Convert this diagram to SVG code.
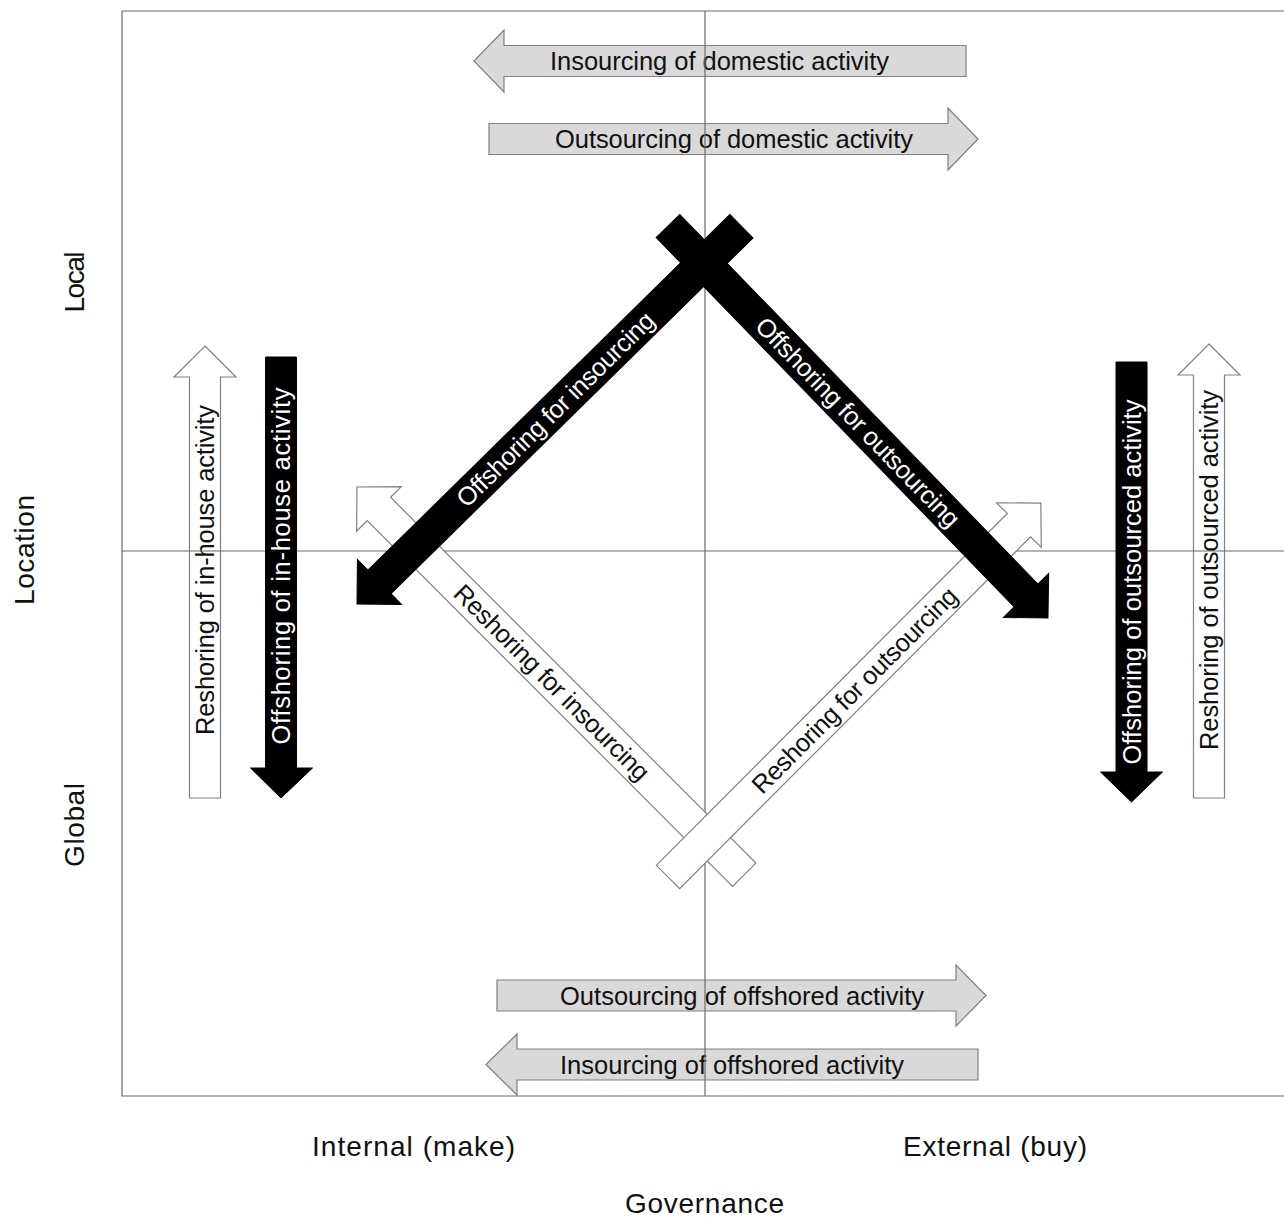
<svg xmlns="http://www.w3.org/2000/svg" width="1284" height="1217" viewBox="0 0 1284 1217">
<style>
.axis{stroke:#6b6b6b;stroke-width:1.2;fill:none}
.gray{fill:#d9d9d9;stroke:#808080;stroke-width:1.2}
.white{fill:#ffffff;stroke:#808080;stroke-width:1.2}
.black{fill:#000000;stroke:#000000;stroke-width:1}
.t{font-family:"Liberation Sans",Arial,sans-serif;font-size:25.5px;fill:#111111;text-anchor:middle}
.tw{font-family:"Liberation Sans",Arial,sans-serif;font-size:25.5px;fill:#ffffff;text-anchor:middle}
.lab{font-family:"Liberation Sans",Arial,sans-serif;font-size:28px;fill:#111111;text-anchor:middle}
</style>
<rect x="0" y="0" width="1284" height="1217" fill="#ffffff"/>

<!-- horizontal gray arrows -->
<g id="insourcing-domestic">
<path class="gray" d="M474,61 L504,30 L504,45.5 L966,45.5 L966,76.5 L504,76.5 L504,92 Z"/>
<text class="t" x="719.5" y="70" textLength="339">Insourcing of domestic activity</text>
</g>
<g id="outsourcing-domestic">
<path class="gray" d="M489,123.5 L948,123.5 L948,108 L978,139 L948,170 L948,154.5 L489,154.5 Z"/>
<text class="t" x="734" y="148" textLength="358">Outsourcing of domestic activity</text>
</g>
<g id="outsourcing-offshored">
<path class="gray" d="M497,980 L956,980 L956,965 L986,995.5 L956,1026 L956,1011 L497,1011 Z"/>
<text class="t" x="742" y="1004.5" textLength="364">Outsourcing of offshored activity</text>
</g>
<g id="insourcing-offshored">
<path class="gray" d="M486,1064.5 L517,1034 L517,1049 L978,1049 L978,1080 L517,1080 L517,1095 Z"/>
<text class="t" x="732" y="1073.5" textLength="344">Insourcing of offshored activity</text>
</g>

<!-- vertical white arrows -->
<g id="reshoring-inhouse">
<path class="white" d="M205,346 L236,377 L220.5,377 L220.5,798 L189.5,798 L189.5,377 L174,377 Z"/>
<text class="t" transform="translate(205,570) rotate(-90)" x="0" y="9" textLength="330">Reshoring of in-house activity</text>
</g>
<g id="reshoring-outsourced">
<path class="white" d="M1209,344 L1240,375 L1224.5,375 L1224.5,798 L1193.5,798 L1193.5,375 L1178,375 Z"/>
<text class="t" transform="translate(1209,570) rotate(-90)" x="0" y="9" textLength="360">Reshoring of outsourced activity</text>
</g>

<!-- axes and frame -->
<g id="connectors">
<path class="axis" d="M122,11 L1284,11 M122,11 L122,1096 L1284,1096 M705,11 L705,1096 M122,551 L1284,551"/>
</g>

<!-- diagonal white arrows -->
<g id="reshoring-for-insourcing" transform="translate(357,487) rotate(45.04)">
<path class="white" d="M0,0 L31,-31.5 L31,-16.5 L548,-16.5 L548,16.5 L31,16.5 L31,31.5 Z"/>
<text class="t" x="276" y="9" textLength="265">Reshoring for insourcing</text>
</g>
<g id="reshoring-for-outsourcing" transform="translate(668,877) rotate(-45.08)">
<path class="white" d="M0,-16.5 L497,-16.5 L497,-31.5 L528,0 L497,31.5 L497,16.5 L0,16.5 Z"/>
<text class="t" x="264" y="9" textLength="279">Reshoring for outsourcing</text>
</g>

<!-- black arrows -->
<g id="offshoring-inhouse">
<path class="black" d="M265.5,357 L296.5,357 L296.5,768 L312.5,768 L281,798 L250.5,768 L265.5,768 Z"/>
<text class="tw" transform="translate(281,566) rotate(-90)" x="0" y="9" textLength="357">Offshoring of in-house activity</text>
</g>
<g id="offshoring-outsourced">
<path class="black" d="M1116,362 L1147,362 L1147,772 L1162.5,772 L1131.5,802 L1100.5,772 L1116,772 Z"/>
<text class="tw" transform="translate(1131.5,582) rotate(-90)" x="0" y="9" textLength="365">Offshoring of outsourced activity</text>
</g>
<g id="offshoring-for-insourcing" transform="translate(357,604) rotate(-44.5)">
<path class="black" d="M0,0 L31.5,-31.5 L31.5,-16.5 L539,-16.5 L539,16.5 L31.5,16.5 L31.5,31.5 Z"/>
<text class="tw" x="278" y="9" textLength="266">Offshoring for insourcing</text>
</g>
<g id="offshoring-for-outsourcing" transform="translate(668,226) rotate(45.9)">
<path class="black" d="M0,-16.5 L514.5,-16.5 L514.5,-31.5 L546,0 L514.5,31.5 L514.5,16.5 L0,16.5 Z"/>
<text class="tw" x="273" y="9" textLength="281">Offshoring for outsourcing</text>
</g>

<!-- axis labels -->
<g id="labels">
<text class="lab" transform="translate(84,282) rotate(-90)" x="0" y="0" textLength="61">Local</text>
<text class="lab" transform="translate(34,550) rotate(-90)" x="0" y="0" textLength="110">Location</text>
<text class="lab" transform="translate(84,825) rotate(-90)" x="0" y="0" textLength="84">Global</text>
<text class="lab" x="413.5" y="1156" textLength="203">Internal (make)</text>
<text class="lab" x="995" y="1156" textLength="184">External (buy)</text>
<text class="lab" x="704.5" y="1213" textLength="159">Governance</text>
</g>
</svg>
